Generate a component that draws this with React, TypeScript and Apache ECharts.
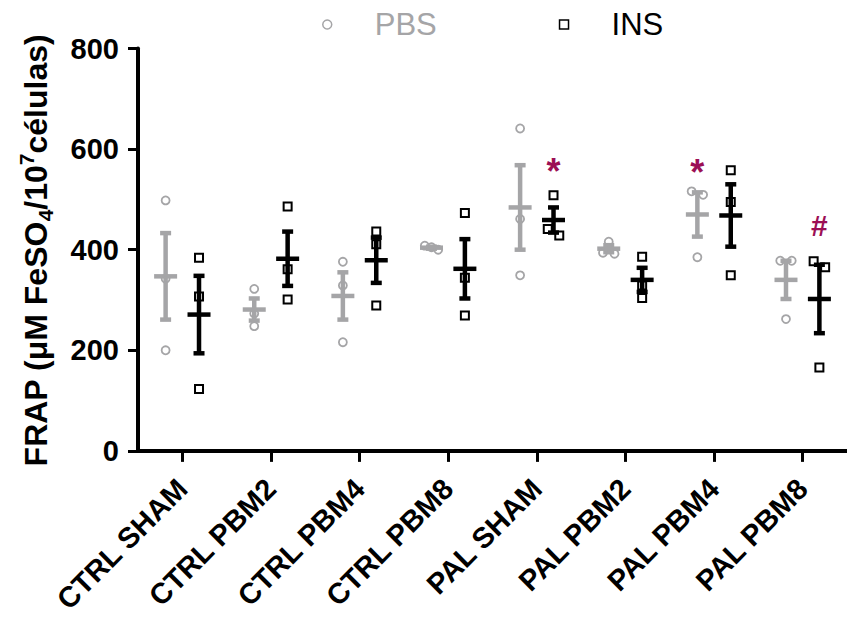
import React, { useEffect, useRef } from 'react';
import * as echarts from 'echarts';

// ---------- data ----------
const categories = ['CTRL SHAM', 'CTRL PBM2', 'CTRL PBM4', 'CTRL PBM8', 'PAL SHAM', 'PAL PBM2', 'PAL PBM4', 'PAL PBM8'];
const pbsPoints = [
  [498, 342, 200],
  [322, 273, 248],
  [376, 329, 216],
  [408, 405, 400],
  [641, 461, 349],
  [416, 394, 392],
  [516, 509, 385],
  [378, 378, 262],
];
const insPoints = [
  [384, 307, 123],
  [486, 361, 301],
  [436, 411, 289],
  [473, 344, 269],
  [508, 441, 428],
  [386, 329, 304],
  [558, 495, 349],
  [377, 365, 166],
];
const pbsMean = [347, 281, 308, 404, 484, 402, 470, 340];
const pbsSem = [86, 22, 47, 2, 84, 7, 44, 38];
const insMean = [271, 382, 379, 362, 459, 340, 468, 302];
const insSem = [77, 54, 45, 59, 25, 24, 62, 68];
const yMin = 0;
const yMax = 800;
const yInterval = 200;
const annotCategory = [4, 6, 7];
const annotGroup = ['INS', 'PBS', 'INS'];
const annotValue = [568, 566, 448];
const annotText = ['*', '*', '#'];

// ---------- style / layout ----------
const FONT = '"Liberation Sans", Arial, Helvetica, sans-serif';
const GRAY = '#a5a5a7';
const BLACK = '#000000';
const CRIMSON = '#9c0f55';
const GRID_LEFT = 138;
const GRID_TOP = 48.5;
const GRID_W = 713.6;
const GRID_H = 404.5;
const SIDE_OFFSET = 16.7;

// spread overlapping points horizontally (like a beeswarm)
function spread(values: number[], pxPerUnit: number, thresh = 10): number[] {
  const idx = values.map((_, i) => i).sort((a, b) => values[b] - values[a]);
  const offs = new Array(values.length).fill(0);
  let cluster: number[] = [];
  const flush = () => {
    const n = cluster.length;
    if (n > 1) {
      const step = n === 2 ? 11.5 : 13.4 / (n - 1);
      cluster.forEach((k, j) => {
        offs[k] = (j - (n - 1) / 2) * step;
      });
    }
    cluster = [];
  };
  idx.forEach((k) => {
    if (cluster.length && (values[cluster[cluster.length - 1]] - values[k]) * pxPerUnit >= thresh) flush();
    cluster.push(k);
  });
  flush();
  return offs;
}

function pointData(groups: number[][], side: number) {
  const ppu = GRID_H / (yMax - yMin);
  const out: any[] = [];
  groups.forEach((pts, i) => {
    const offs = spread(pts, ppu);
    pts.forEach((v, j) => {
      out.push({ value: [i, v], symbolOffset: [side * SIDE_OFFSET + offs[j], 0] });
    });
  });
  return out;
}

function errorSeries(name: string, means: number[], sems: number[], side: number, color: string) {
  return {
    name,
    type: 'custom',
    z: 2,
    data: means.map((m, i) => [i, m, sems[i]]),
    renderItem: (params: any, api: any) => {
      const i = api.value(0);
      const m = api.value(1);
      const s = api.value(2);
      const c = api.coord([i, m]);
      const hi = api.coord([i, m + s]);
      const lo = api.coord([i, m - s]);
      const x = c[0] + side * SIDE_OFFSET;
      const st = { stroke: color, lineWidth: 4.5 };
      return {
        type: 'group',
        children: [
          { type: 'line', shape: { x1: x, y1: hi[1], x2: x, y2: lo[1] }, style: st },
          { type: 'line', shape: { x1: x - 5.5, y1: hi[1], x2: x + 5.5, y2: hi[1] }, style: st },
          { type: 'line', shape: { x1: x - 5.5, y1: lo[1], x2: x + 5.5, y2: lo[1] }, style: st },
          { type: 'line', shape: { x1: x - 11.5, y1: c[1], x2: x + 11.5, y2: c[1] }, style: st },
        ],
      };
    },
  };
}

export default function App() {
  const ref = useRef<HTMLDivElement>(null);
  useEffect(() => {
    if (!ref.current) return;
    const chart = echarts.init(ref.current, null, { renderer: 'svg' });
    const option: any = {
      animation: false,
      backgroundColor: '#ffffff',
      grid: { left: GRID_LEFT, top: GRID_TOP, width: GRID_W, height: GRID_H, containLabel: false },
      legend: {
        left: 317,
        top: 4,
        itemWidth: 9,
        itemHeight: 9,
        itemGap: 122,
        textStyle: { fontSize: 31, fontFamily: FONT, padding: [0, 0, 0, 38] },
        itemStyle: { borderWidth: 1.5 },
        data: [
          { name: 'PBS', textStyle: { color: GRAY } },
          { name: 'INS', textStyle: { color: BLACK } },
        ],
      },
      xAxis: {
        type: 'category',
        data: categories,
        boundaryGap: true,
        axisLine: { show: true, lineStyle: { color: BLACK, width: 4 } },
        axisTick: { show: true, alignWithLabel: true, length: 11, lineStyle: { color: BLACK, width: 3 } },
        axisLabel: {
          rotate: 45,
          interval: 0,
          margin: 33,
          fontSize: 29,
          fontWeight: 'bold',
          fontFamily: FONT,
          color: BLACK,
        },
        splitLine: { show: false },
      },
      yAxis: {
        type: 'value',
        min: yMin,
        max: yMax,
        interval: yInterval,
        axisLine: { show: true, lineStyle: { color: BLACK, width: 4 } },
        axisTick: { show: true, length: 10, lineStyle: { color: BLACK, width: 3 } },
        axisLabel: { margin: 19, fontSize: 29, fontWeight: 'bold', fontFamily: FONT, color: BLACK },
        splitLine: { show: false },
      },
      graphic: [
        {
          type: 'text',
          x: 36,
          y: 250.5,
          rotation: Math.PI / 2,
          style: {
            text: '{a|FRAP (μM FeSO}{sub|4}{a|/10}{sup|7}{a|células)}',
            align: 'center',
            verticalAlign: 'middle',
            fill: BLACK,
            rich: {
              a: { fontSize: 32, fontWeight: 'bold', fontFamily: FONT, lineHeight: 40, fill: BLACK },
              sub: { fontSize: 21, fontWeight: 'bold', fontFamily: FONT, lineHeight: 21, verticalAlign: 'bottom', fill: BLACK },
              sup: { fontSize: 21, fontWeight: 'bold', fontFamily: FONT, lineHeight: 21, verticalAlign: 'top', fill: BLACK },
            },
          },
        },
      ],
      series: [
        errorSeries('PBS SEM', pbsMean, pbsSem, -1, GRAY),
        errorSeries('INS SEM', insMean, insSem, 1, BLACK),
        {
          name: 'PBS',
          type: 'scatter',
          z: 3,
          symbol: 'circle',
          symbolSize: 8,
          itemStyle: { color: 'transparent', borderColor: GRAY, borderWidth: 1.8, opacity: 1 },
          data: pointData(pbsPoints, -1),
        },
        {
          name: 'INS',
          type: 'scatter',
          z: 3,
          symbol: 'rect',
          symbolSize: 8,
          itemStyle: { color: 'transparent', borderColor: BLACK, borderWidth: 2, opacity: 1 },
          data: pointData(insPoints, 1),
        },
        {
          name: 'annotations',
          type: 'custom',
          z: 4,
          data: annotCategory.map((c, i) => [c, annotValue[i]]),
          renderItem: (params: any, api: any) => {
            const idx = params.dataIndex;
            const p = api.coord([api.value(0), api.value(1)]);
            const side = annotGroup[idx] === 'PBS' ? -1 : 1;
            const t = annotText[idx];
            const fs = t === '*' ? 36 : 30;
            return {
              type: 'text',
              x: p[0] + side * SIDE_OFFSET,
              y: p[1] + (t === '*' ? 0.18 * fs : 0),
              style: {
                text: t,
                fontSize: fs,
                fontWeight: 'bold',
                fontFamily: FONT,
                fill: CRIMSON,
                align: 'center',
                verticalAlign: 'middle',
              },
            };
          },
        },
      ],
    };
    chart.setOption(option);
    return () => chart.dispose();
  }, []);
  return <div ref={ref} style={{ position: 'absolute', left: 0, top: 0, width: 847, height: 617 }} />;
}
